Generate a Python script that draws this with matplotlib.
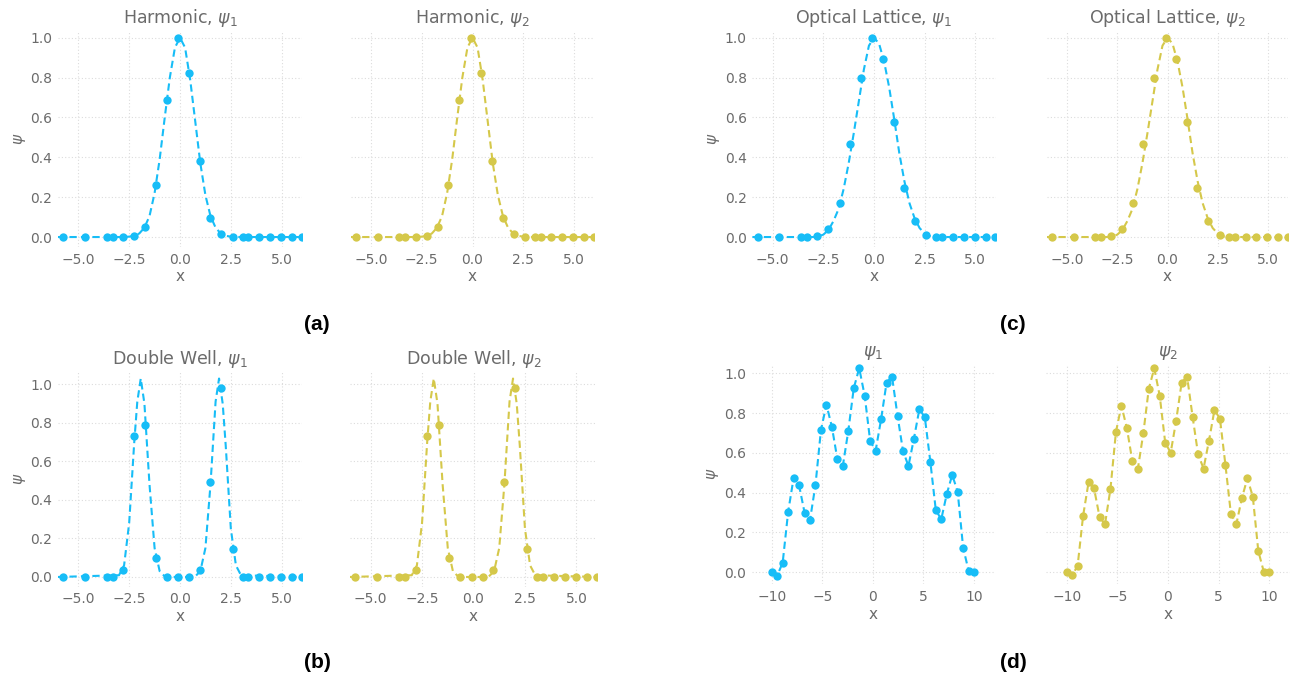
import numpy as np
import matplotlib
matplotlib.use("Agg")
import matplotlib.pyplot as plt

# sample points used in panels (a), (b), (c)
x_pts = [-5.74, -4.67, -3.61, -3.31, -2.79, -2.25, -1.70, -1.20, -0.66, -0.08, 0.44,
         0.97, 1.49, 2.02, 2.59, 3.08, 3.36, 3.89, 4.43, 4.97, 5.51, 5.98]
harm_pts = [0, 0, 0, 0, 0, 0.007, 0.05, 0.26, 0.687, 0.997, 0.824,
            0.38, 0.094, 0.013, 0, 0, 0, 0, 0, 0, 0, 0]
dw_pts = [0, 0, 0, 0, 0.036, 0.73, 0.79, 0.10, 0, 0, 0,
          0.036, 0.495, 0.983, 0.144, 0, 0, 0, 0, 0, 0, 0]
ol_pts = [0, 0, 0, 0, 0.007, 0.042, 0.173, 0.466, 0.799, 1.0, 0.894,
          0.577, 0.247, 0.079, 0.012, 0, 0, 0, 0, 0, 0, 0]

# reference (dashed) curves
curve_x = [-6.0, -3.0, -2.75, -2.5, -2.25, -2.0, -1.75, -1.5, -1.25, -1.0, -0.75, -0.5, -0.25,
           0.0, 0.25, 0.5, 0.75, 1.0, 1.25, 1.5, 1.75, 2.0, 2.25, 2.5, 2.75, 3.0, 6.0]
harm_curve = [0, 0, 0.0005, 0.002, 0.006, 0.018, 0.047, 0.105, 0.22, 0.39, 0.6, 0.8, 0.95,
              1.0, 0.95, 0.79, 0.58, 0.37, 0.21, 0.105, 0.047, 0.018, 0.006, 0.002, 0.0005, 0, 0]
ol_curve = [0, 0, 0.003, 0.012, 0.035, 0.08, 0.14, 0.24, 0.37, 0.52, 0.68, 0.84, 0.96,
            1.0, 0.97, 0.88, 0.75, 0.59, 0.42, 0.28, 0.17, 0.095, 0.045, 0.018, 0.005, 0, 0]
dw_curve_x = [-6.0, -3.0, -2.75, -2.5, -2.25, -2.1, -1.93, -1.75, -1.5, -1.25, -1.0, -0.75, -0.5,
              0.5, 0.75, 1.0, 1.25, 1.5, 1.75, 1.92, 2.1, 2.25, 2.5, 2.75, 3.0, 6.0]
dw_curve = [0, 0.009, 0.06, 0.28, 0.70, 0.91, 1.03, 0.90, 0.48, 0.15, 0.03, 0.003, 0,
            0, 0.003, 0.03, 0.15, 0.48, 0.91, 1.03, 0.90, 0.68, 0.25, 0.06, 0.009, 0]

# panel (d)
x_d = np.linspace(-10, 10, 38)
d_psi1 = [0.0, -0.017, 0.048, 0.303, 0.474, 0.437, 0.30, 0.263, 0.439, 0.715, 0.842, 0.731, 0.569,
          0.534, 0.71, 0.925, 1.025, 0.887, 0.66, 0.611, 0.769, 0.953, 0.983, 0.787, 0.61, 0.534,
          0.671, 0.82, 0.778, 0.556, 0.313, 0.266, 0.392, 0.489, 0.405, 0.124, 0.008, 0.0]
d_psi2 = [0.0, -0.015, 0.032, 0.283, 0.452, 0.422, 0.279, 0.241, 0.419, 0.705, 0.837, 0.724, 0.558,
          0.519, 0.698, 0.922, 1.025, 0.886, 0.651, 0.601, 0.762, 0.953, 0.983, 0.782, 0.594, 0.521,
          0.662, 0.816, 0.771, 0.539, 0.293, 0.243, 0.372, 0.472, 0.38, 0.107, 0.003, 0.0]

BLUE = "#17bdf7"
YELLOW = "#d5c84a"
GREY = "#6b6b6b"

W, H = 1304, 685
fig = plt.figure(figsize=(W / 100, H / 100), dpi=100)


def make_ax(left, right, top, bottom):
    return fig.add_axes([left / W, 1 - bottom / H, (right - left) / W, (bottom - top) / H])


def style(ax, title, first, xlim, ylim, xticks, fmt):
    ax.set_xlim(*xlim)
    ax.set_ylim(*ylim)
    for s in ax.spines.values():
        s.set_visible(False)
    ax.grid(True, linestyle=(0, (1, 2)), color="#dcdcdc", linewidth=0.8)
    ax.set_axisbelow(True)
    ax.set_xticks(xticks)
    ax.set_xticklabels([fmt(t).replace("-", "\u2212") for t in xticks])
    ax.set_yticks([0, 0.2, 0.4, 0.6, 0.8, 1.0])
    ax.tick_params(length=0, labelsize=10, labelcolor=GREY, pad=4)
    if first:
        ax.set_yticklabels(["0.0", "0.2", "0.4", "0.6", "0.8", "1.0"])
        ax.set_ylabel(r"$\psi$", color=GREY, fontsize=11, labelpad=2)
    else:
        ax.set_yticklabels([])
    ax.set_xlabel("x", color=GREY, fontsize=11, labelpad=2)
    ax.set_title(title, color=GREY, fontsize=12.5, pad=6)


def draw(ax, cx, cy, px, py, color):
    ax.plot(cx, cy, linestyle=(0, (3.5, 2)), color=color, linewidth=1.5, zorder=3)
    ax.plot(px, py, "o", color=color, markersize=6, markeredgewidth=0, zorder=4)


f1 = lambda t: "%.1f" % t
f0 = lambda t: "%d" % t
ticks6 = [-5.0, -2.5, 0.0, 2.5, 5.0]
ticks10 = [-10, -5, 0, 5, 10]

# (a)
ax = make_ax(58, 302, 31.7, 247)
draw(ax, curve_x, harm_curve, x_pts, harm_pts, BLUE)
style(ax, r"Harmonic, $\psi_1$", True, (-6, 6), (-0.05, 1.03), ticks6, f1)
ax = make_ax(350.7, 594.3, 31.7, 247)
draw(ax, curve_x, harm_curve, x_pts, harm_pts, YELLOW)
style(ax, r"Harmonic, $\psi_2$", False, (-6, 6), (-0.05, 1.03), ticks6, f1)

# (c)
ax = make_ax(752.4, 995.6, 31.7, 247)
draw(ax, curve_x, ol_curve, x_pts, ol_pts, BLUE)
style(ax, r"Optical Lattice, $\psi_1$", True, (-6, 6), (-0.05, 1.03), ticks6, f1)
ax = make_ax(1047, 1288, 31.7, 247)
draw(ax, curve_x, ol_curve, x_pts, ol_pts, YELLOW)
style(ax, r"Optical Lattice, $\psi_2$", False, (-6, 6), (-0.05, 1.03), ticks6, f1)

# (b)
ax = make_ax(58, 302, 372, 586.6)
draw(ax, dw_curve_x, dw_curve, x_pts, dw_pts, BLUE)
style(ax, r"Double Well, $\psi_1$", True, (-6, 6), (-0.05, 1.064), ticks6, f1)
ax = make_ax(350, 597, 372, 586.6)
draw(ax, dw_curve_x, dw_curve, x_pts, dw_pts, YELLOW)
style(ax, r"Double Well, $\psi_2$", False, (-6, 6), (-0.05, 1.064), ticks6, f1)

# (d)
ax = make_ax(751.5, 994.3, 364.3, 584.2)
draw(ax, x_d, d_psi1, x_d, d_psi1, BLUE)
style(ax, r"$\psi_1$", True, (-12, 12), (-0.06, 1.045), ticks10, f0)
ax = make_ax(1046.4, 1289.5, 364.3, 584.2)
draw(ax, x_d, d_psi2, x_d, d_psi2, YELLOW)
style(ax, r"$\psi_2$", False, (-12, 12), (-0.06, 1.045), ticks10, f0)

for lab, (px, py) in {"(a)": (317, 325), "(c)": (1013, 325),
                      "(b)": (317, 662), "(d)": (1013, 662)}.items():
    fig.text(px / W, 1 - py / H, lab, ha="center", va="center", fontsize=15,
             fontweight="bold", family="Liberation Sans", color="black")

fig.savefig("out.png", dpi=100)
